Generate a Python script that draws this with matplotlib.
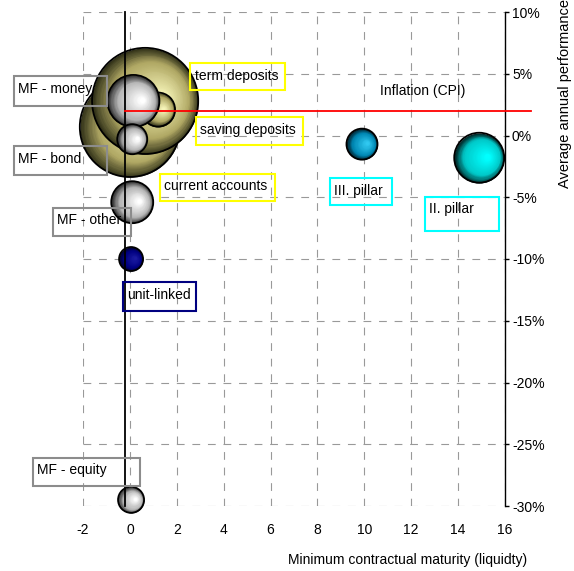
import numpy as np
import matplotlib
matplotlib.use('Agg')
import matplotlib.pyplot as plt
from matplotlib import transforms
from matplotlib.colors import to_rgb
from matplotlib.patches import Rectangle

plt.rcParams['font.family'] = ['Liberation Sans', 'DejaVu Sans']
plt.rcParams['axes.unicode_minus'] = False

# savings products: liquidity vs. yield, bubble = volume
products = ['current accounts', 'term deposits', 'saving deposits', 'MF - money',
            'MF - bond', 'MF - other', 'unit-linked', 'MF - equity',
            'III. pillar', 'II. pillar']
group = ['bank', 'bank', 'bank', 'mf', 'mf', 'mf', 'ul', 'mf', 'p3', 'p2']
maturity = [0.0, 0.65, 1.2, 0.15, 0.1, 0.1, 0.05, 0.05, 9.9, 14.9]
performance = [0.7, 2.8, 2.1, 2.8, -0.3, -5.4, -10.0, -29.5, -0.7, -1.8]
volume = [9.8, 11.0, 1.13, 2.64, 0.88, 1.72, 0.56, 0.66, 0.94, 2.44]
inflation = 2.0

x_ticks = [-2, 0, 2, 4, 6, 8, 10, 12, 14, 16]
y_ticks = [-30, -25, -20, -15, -10, -5, 0, 5, 10]
y_ticklabels = ['-30%', '-25%', '-20%', '-15%', '-10%', '-5%', '0%', '5%', '10%']

# bubble shading: rim, body, highlight
shades = {
    'bank': ('#34341a', '#b0a864', '#f6f4b8'),
    'mf':   ('#333333', '#b4b4b4', '#ffffff'),
    'ul':   ('#000030', '#000080', '#1a1aa0'),
    'p3':   ('#00202c', '#0088b4', '#30c8f0'),
    'p2':   ('#002828', '#00c8c8', '#00ffff'),
}
box_edge = {'bank': '#ffff00', 'mf': '#8c8c8c', 'ul': '#000080',
            'p3': '#00ffff', 'p2': '#00ffff'}

# label boxes (data coords): left, right, top, bottom
box_x0 = [1.27, 2.58, 2.83, -4.95, -4.95, -3.3, -0.3, -4.14, 8.54, 12.6]
box_x1 = [6.17, 6.6, 7.4, -0.97, -0.97, 0.04, 2.83, 0.42, 11.16, 15.73]
box_top = [-3.08, 5.83, 1.46, 4.78, -0.89, -5.83, -11.9, -26.1, -3.48, -4.94]
box_bot = [-5.27, 3.65, -0.73, 2.35, -3.16, -8.1, -14.2, -28.4, -5.59, -7.7]

fig = plt.figure(figsize=(5.74, 5.71), dpi=100)
ax = fig.add_axes([83 / 574, 1 - 506 / 571, 422 / 574, 494 / 571])
ax.set_xlim(-2, 16)
ax.set_ylim(-30, 10)


def mix(a, b, t):
    a, b = np.array(to_rgb(a)), np.array(to_rgb(b))
    return tuple(a + (b - a) * t)


def bubble(x, y, r_px, cols, z):
    r_pt = r_px * 72 / fig.dpi
    dark, base, light = cols
    n = 40
    for i in range(n):
        t = i / (n - 1)
        rr = r_pt * (1 - 0.9 * t)
        if t < 0.3:
            c = mix(dark, base, t / 0.3)
        else:
            c = mix(base, light, (t - 0.3) / 0.7)
        tr = transforms.offset_copy(ax.transData, fig=fig, x=0.32 * r_pt * t,
                                    y=0.05 * r_pt * t, units='points')
        ax.scatter([x], [y], s=(2 * rr) ** 2, color=c, lw=0, transform=tr,
                   zorder=z + i * 1e-4, clip_on=False)
    ax.scatter([x], [y], s=(2 * r_pt) ** 2, facecolors='none', edgecolors='black',
               lw=1.3, zorder=z + 0.01, clip_on=False)


for k, name in enumerate(products):
    r = 16 * np.sqrt(volume[k])
    bubble(maturity[k], performance[k], r, shades[group[k]], 3 + k * 0.05)

# reference lines
ax.plot([-0.2, -0.2], [10, -30], color='black', lw=1.3, zorder=5, clip_on=False)
ax.plot([-0.2, 17.1], [inflation, inflation], color='red', lw=1.3, zorder=5,
        clip_on=False)
ax.text(12.5, 3.6, 'Inflation (CPI)', fontsize=10, ha='center', va='center',
        zorder=6)

# product labels
for k, name in enumerate(products):
    ax.add_patch(Rectangle((box_x0[k], box_bot[k]), box_x1[k] - box_x0[k],
                           box_top[k] - box_bot[k], fill=False,
                           edgecolor=box_edge[group[k]], lw=1.5, zorder=6,
                           clip_on=False))
    tr = transforms.offset_copy(ax.transData, fig=fig, x=3, y=-9, units='points')
    ax.text(box_x0[k], box_top[k], name, transform=tr, fontsize=10,
            ha='left', va='center', zorder=7, clip_on=False)

# axes styling
ax.set_xticks(x_ticks)
ax.set_yticks(y_ticks)
ax.set_yticklabels(y_ticklabels)
ax.yaxis.tick_right()
ax.tick_params(axis='x', length=0, pad=12, labelsize=10)
ax.tick_params(axis='y', length=3, width=1, pad=2, labelsize=10, direction='out')
for s in ['left', 'top', 'bottom']:
    ax.spines[s].set_visible(False)
ax.spines['right'].set_linewidth(1)
ax.grid(True, color='#999999', lw=0.8, linestyle=(0, (7, 7)))
ax.set_axisbelow(True)

fig.text(527 / 574, 1 - 560 / 571, 'Minimum contractual maturity (liquidty)',
         fontsize=10, ha='right', va='center')
fig.text(565 / 574, 1 - 188 / 571, 'Average annual performance', fontsize=10.5,
         rotation=90, ha='center', va='bottom')

fig.savefig('out.png', dpi=100)
